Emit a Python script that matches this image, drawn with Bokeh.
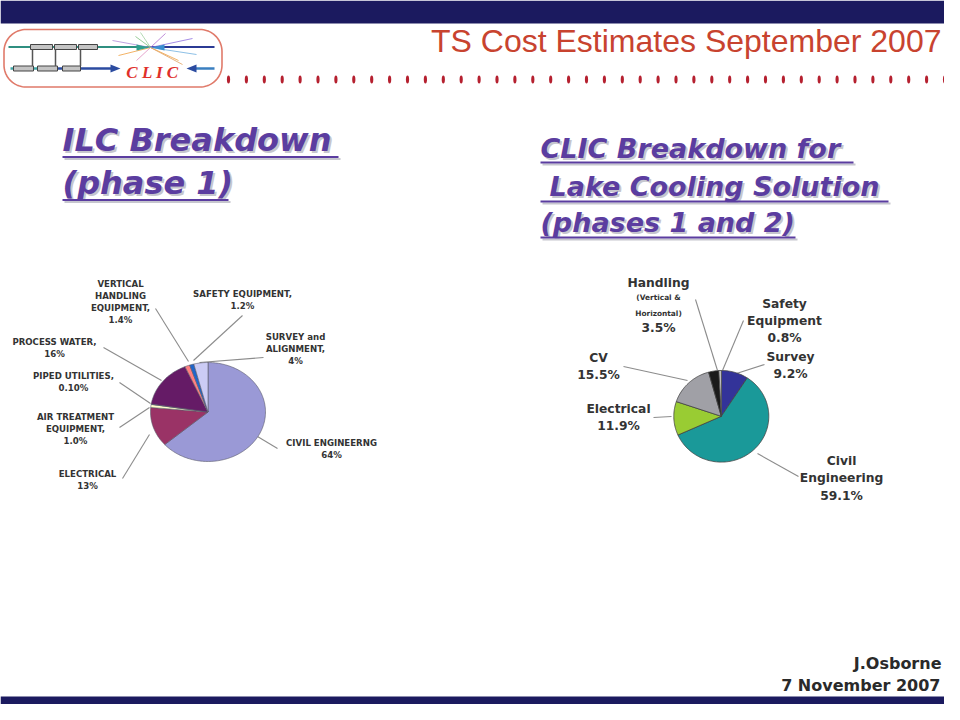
import numpy as np
from bokeh.plotting import figure
from bokeh.models import Range1d
from bokeh.core.properties import value
from bokeh.embed import file_html
from bokeh.resources import INLINE

# ---------------- data ----------------
ilc_categories = ["CIVIL ENGINEERNG", "ELECTRICAL", "AIR TREATMENT\nEQUIPMENT,",
                  "PIPED UTILITIES,", "PROCESS WATER,", "VERTICAL\nHANDLING\nEQUIPMENT,",
                  "SAFETY EQUIPMENT,", "SURVEY and\nALIGNMENT,"]
ilc_values = [64, 13, 1.0, 0.10, 16, 1.4, 1.2, 4]
ilc_pct = ["64%", "13%", "1.0%", "0.10%", "16%", "1.4%", "1.2%", "4%"]
ilc_colors = ["#9A99D6", "#9A3366", "#FFFFCC", "#CCFFFF", "#651B66", "#FF8080", "#1F66CC", "#CCCCF5"]

clic_categories = ["Survey", "Civil\nEngineering", "Electrical", "CV",
                   "Handling\n(Vertical &\nHorizontal)", "Safety\nEquipment"]
clic_values = [9.2, 59.1, 11.9, 15.5, 3.5, 0.8]
clic_pct = ["9.2%", "59.1%", "11.9%", "15.5%", "3.5%", "0.8%"]
clic_colors = ["#333399", "#1A9999", "#99CC33", "#A0A0A6", "#1A1A1A", "#D8D8D8"]
clic_small_lines = ["(Vertical &", "Horizontal)"]

ilc_title_lines = ["ILC Breakdown", "(phase 1)"]
clic_title_lines = ["CLIC Breakdown for", "Lake Cooling Solution", "(phases 1 and 2)"]
slide_title = "TS Cost Estimates September 2007"
footer_lines = ["J.Osborne", "7 November 2007"]

# ---------------- layout (reference pixel coords) ----------------
def Y(py):
    return 720 - py

ILC_C = (207.5, 411.5, 57.5, 49.5)
CLIC_C = (720.8, 415.8, 47.5, 45.8)

ilc_label_pos = [(331, 442, 12), (87, 473, 12.5), (75, 416, 12), (73, 375, 12.5),
                 (54, 341, 12), (120, 283, 12.2), (242, 293, 12.5), (295, 336, 12)]
clic_label_pos = [(790, 356, 17), (841, 460, 17.5), (618, 408, 17.5), (598, 357, 17.5),
                  (658, 282, 15.3), (784, 303, 17)]

ilc_leaders = [((277, 448), (257, 436)), ((122, 478), (149, 434)), ((119, 427), (149, 407)),
               ((119, 382), (150, 403)), ((103, 347), (161, 380)), ((155, 308), (188, 361)),
               ((242, 315), (193, 360)), ((263, 357), (199, 362))]
clic_leaders = [((764, 364), (736, 373)), ((798, 476), (757, 453)), ((653, 417), (671, 416)),
                ((623, 366), (687, 380)), ((695, 299), (717, 370)), ((743, 320), (722, 370))]

p = figure(width=944, height=704, output_backend="svg", toolbar_location=None,
           x_range=Range1d(0, 944), y_range=Range1d(16, 720),
           x_axis_type=None, y_axis_type=None, min_border=0)
p.grid.visible = False
p.outline_line_color = None
p.background_fill_color = "white"
p.border_fill_color = "white"

NAVY = "#1B1A5F"
# bars
p.quad(left=0, right=960, bottom=Y(23), top=720, fill_color=NAVY, line_color=None)
p.quad(left=0, right=960, bottom=0, top=Y(696), fill_color=NAVY, line_color=None)

# ---------------- logo ----------------
def stadium(x0, x1, y0, y1, r):
    pts = []
    for cx, cy, a0, a1 in [(x1 - r, y0 + r, -90, 0), (x1 - r, y1 - r, 0, 90),
                           (x0 + r, y1 - r, 90, 180), (x0 + r, y0 + r, 180, 270)]:
        t = np.radians(np.linspace(a0, a1, 20))
        pts += [(cx + r * np.cos(tt), cy + r * np.sin(tt)) for tt in t]
    pts.append(pts[0])
    return [q[0] for q in pts], [q[1] for q in pts]

sx, sy = stadium(3.5, 221.5, Y(86.5), Y(29), 22)
p.line(sx, sy, line_color="#E07A6A", line_width=1.6)
p.line([8, 150], [Y(46.5), Y(46.5)], line_color="#2F8F80", line_width=2)
p.line([150, 214], [Y(46.5), Y(46.5)], line_color="#2B3A94", line_width=2)
p.line([10, 40], [Y(68), Y(68)], line_color="#3FA6A6", line_width=2.5)
p.line([40, 112], [Y(68), Y(68)], line_color="#2B4BA0", line_width=2.5)
p.patch([110, 120, 110], [Y(72), Y(68), Y(64)], fill_color="#2B4BA0", line_color=None)
p.line([194, 214], [Y(68), Y(68)], line_color="#3A7FC0", line_width=2.5)
p.patch([196, 186, 196], [Y(72), Y(68), Y(64)], fill_color="#2B4BA0", line_color=None)
for xa, xb in [(30, 52), (54, 76), (78, 97)]:
    p.rect(x=(xa + xb) / 2, y=Y(46.5), width=xb - xa, height=5, fill_color="#C4C4C4",
           line_color="#444444", line_width=1)
for xa, xb in [(13, 33), (37, 57), (62, 80)]:
    p.rect(x=(xa + xb) / 2, y=Y(68), width=xb - xa, height=5, fill_color="#C4C4C4",
           line_color="#444444", line_width=1)
for xv in [32, 55, 80]:
    p.line([xv, xv], [Y(49), Y(65.5)], line_color="#555555", line_width=1.5)
rays = [((112, 40), "#B08CD8"), ((118, 55), "#F0A040"), ((135, 36), "#80C080"),
        ((136, 60), "#E090C0"), ((165, 33), "#B070D0"), ((178, 60), "#F0A040"),
        ((192, 38), "#9070E0"), ((196, 54), "#70B0E0"), ((182, 64), "#E0A060"),
        ((140, 32), "#A0D0A0")]
for (ex, ey), c in rays:
    p.line([150, ex], [Y(47), Y(ey)], line_color=c, line_width=1, alpha=0.8)
p.patch([136, 149, 136], [Y(44), Y(47), Y(50)], fill_color="#2F9F8F", line_color=None)
p.patch([164, 151, 164], [Y(44), Y(47), Y(50)], fill_color="#3A8FD0", line_color=None)
p.text(x=[152], y=[Y(71.5)], text=["C L I C"], text_font=value("Liberation Serif"),
       text_font_style="bold italic", text_font_size="17px", text_color="#E0302A",
       text_align="center", text_baseline="middle")

# dotted rule
dots_x = np.arange(228, 946, 17.9)
p.ellipse(x=dots_x, y=[Y(79)] * len(dots_x), width=3.2, height=8,
          fill_color="#B5202F", line_color=None)

# slide title
p.text(x=[941], y=[Y(40)], text=[slide_title], text_font=value("Liberation Sans"),
       text_font_size="32px", text_color="#C8432F", text_align="right",
       text_baseline="middle")

# ---------------- subtitles ----------------
PURPLE = "#5B3DA0"
SHADOW = "#C6C6CE"
def subtitle(lines, xs, mids, ul_y, ul_x, size):
    for col, off in [(SHADOW, 2), (PURPLE, 0)]:
        p.text(x=[x + off for x in xs], y=[Y(m) - off for m in mids], text=lines,
               text_font=value("DejaVu Sans"), text_font_style="bold italic",
               text_font_size=size, text_color=col, text_align="left",
               text_baseline="middle")
        p.segment(x0=[a + off for a, b in ul_x], x1=[b + off for a, b in ul_x],
                  y0=[Y(u) - off for u in ul_y], y1=[Y(u) - off for u in ul_y],
                  line_color=col, line_width=2.2)

subtitle(ilc_title_lines, [62, 62], [139.5, 182.5], [156.5, 199.5], [(62, 338), (62, 228)], "32px")
subtitle(clic_title_lines, [540, 549, 540], [147.5, 186, 222], [162, 201, 237],
         [(540, 853), (540, 888), (540, 795)], "27px")

# ---------------- pies ----------------
def pie_patches(values, cx, cy, rx, ry):
    total = float(sum(values))
    cum = np.concatenate([[0.0], np.cumsum(values)]) / total * 2 * np.pi
    xs, ys = [], []
    for a0, a1 in zip(cum[:-1], cum[1:]):
        n = max(2, int(np.ceil((a1 - a0) / (2 * np.pi) * 240)))
        t = np.linspace(a0, a1, n + 1)
        xs.append([cx] + list(cx + rx * np.sin(t)))
        ys.append([cy] + list(cy + ry * np.cos(t)))
    return xs, ys

def draw_pie(values, colors, C, outline, lw):
    cx, cy, rx, ry = C
    xs, ys = pie_patches(values, cx, Y(cy), rx, ry)
    p.patches(xs, ys, fill_color=colors, line_color=outline, line_width=lw)

def draw_leaders(leaders):
    p.segment(x0=[a[0] for a, b in leaders], y0=[Y(a[1]) for a, b in leaders],
              x1=[b[0] for a, b in leaders], y1=[Y(b[1]) for a, b in leaders],
              line_color="#8C8C8C", line_width=1.1)

def draw_labels(cats, pcts, pos, size, small_size=None, small_lines=()):
    groups = {}
    for cat, pct, (x, y0, dy) in zip(cats, pcts, pos):
        lines = cat.split("\n") + [pct]
        for i, ln in enumerate(lines):
            s = small_size if ln in small_lines else size
            groups.setdefault(s, ([], [], []))
            groups[s][0].append(x)
            groups[s][1].append(Y(y0 + i * dy))
            groups[s][2].append(ln)
    for s, (gx, gy, gt) in groups.items():
        p.text(x=gx, y=gy, text=gt, text_font=value("DejaVu Sans"), text_font_style="bold",
               text_font_size=s, text_color="#333333", text_align="center",
               text_baseline="middle")

draw_leaders(ilc_leaders)
draw_pie(ilc_values, ilc_colors, ILC_C, "#5A5A6A", 0.6)
draw_labels(ilc_categories, ilc_pct, ilc_label_pos, "8.6px")

draw_leaders(clic_leaders)
draw_pie(clic_values, clic_colors, CLIC_C, "#444444", 0.8)
draw_labels(clic_categories, clic_pct, clic_label_pos, "12.3px", "7.4px", clic_small_lines)

# footer
p.text(x=[941, 940], y=[Y(662.5), Y(685)], text=footer_lines, text_font=value("DejaVu Sans"),
       text_font_style="bold", text_font_size="16px", text_color="#2A2A2A",
       text_align="right", text_baseline="middle")

open("out.html", "w").write(file_html(p, INLINE))
